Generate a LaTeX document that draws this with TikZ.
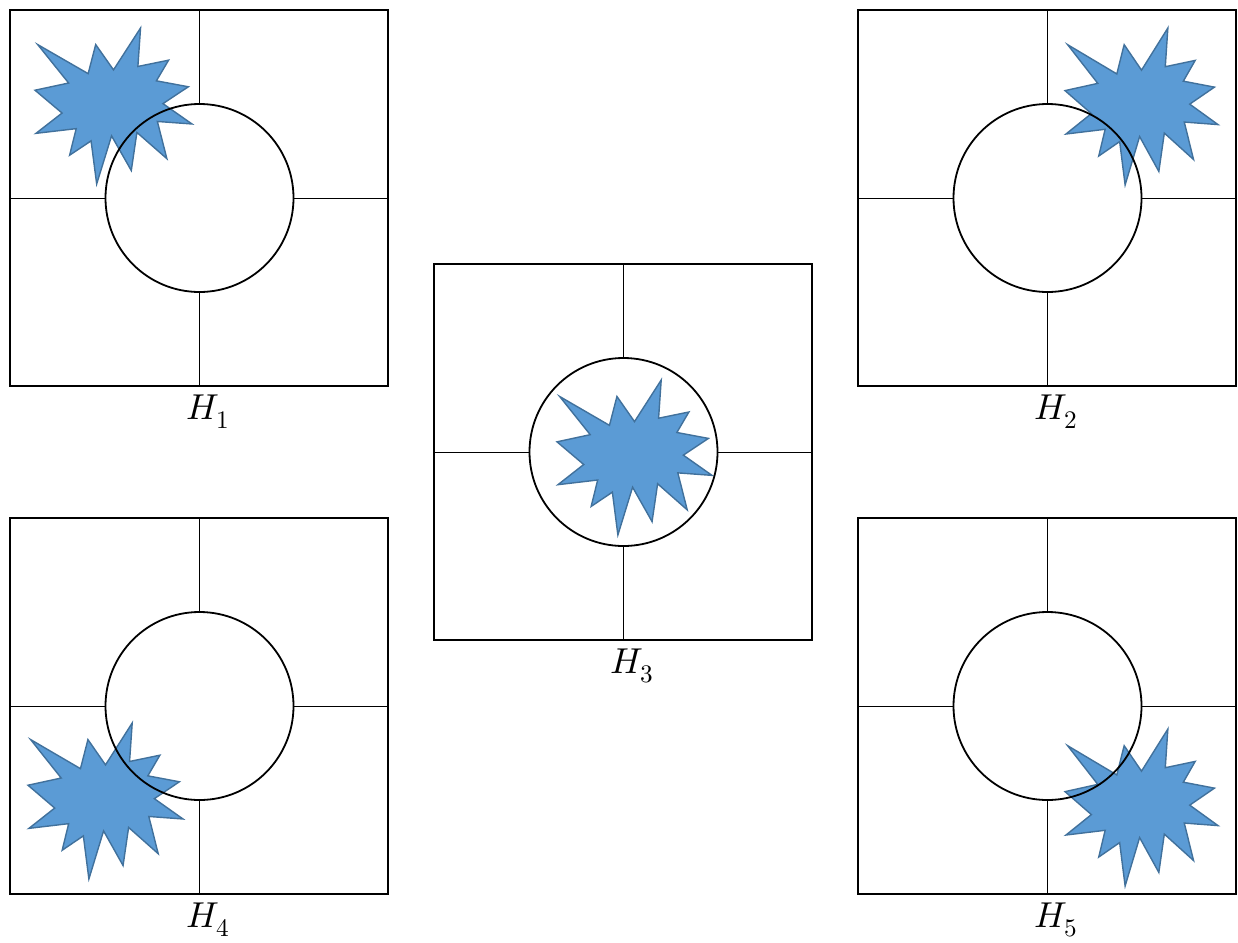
\documentclass[tikz,border=0pt]{standalone}
\usepackage{unicode-math}
\setmathfont{Latin Modern Math}
\begin{document}
\begin{tikzpicture}[x=1pt,y=-1pt,
  frame/.style={draw=black,line width=1.8pt},
  crossline/.style={draw=black,line width=0.9pt},
  ring/.style={draw=black,line width=1.8pt},
  burst/.style={fill=starblue,draw=starline,line width=1.4pt,line join=miter},
  lbl/.style={inner sep=0pt,font=\fontsize{36}{40}\selectfont}]
\definecolor{starblue}{HTML}{5B9BD5}
\definecolor{starline}{HTML}{41719C}
\useasboundingbox (0,0) rectangle (1238,942);
\newcommand\explosion[4]{%
  \begin{scope}[shift={(#1,#2)},xscale=#3/216,yscale=#4/216]
  \path[burst] (108,58) -- (145.22,0) -- (141.55,53.25) -- (183.80,44.57) -- (167.02,73.15) -- (210.97,81.37) -- (176.07,104.75) -- (216,132.90) -- (168.37,129.42) -- (181.45,180.95) -- (140.20,144.57) -- (132.47,197.37) -- (105.32,149.35) -- (84.85,216) -- (77.15,156.27) -- (47.62,176.17) -- (56.67,139.37) -- (1.35,145.87) -- (37.22,117.75) -- (0,86.15) -- (46.27,76.17) -- (3.70,22.95) -- (73.12,63.20) -- (83.52,22.95) -- cycle;
  \end{scope}}
\newcommand\panel[4]{% name, cx, cy, label
  \node[frame,minimum width=378pt,minimum height=376pt,inner sep=0pt] (#1) at (#2,#3) {};
  \coordinate (#1c) at (#2+0.5,#3);
  \path[crossline] (#1.north -| #1c) -- ([yshift=94pt]#1c);
  \path[crossline] (#1.south -| #1c) -- ([yshift=-94pt]#1c);
  \path[crossline] (#1.west |- #1c) -- ([xshift=-94pt]#1c);
  \path[crossline] (#1.east |- #1c) -- ([xshift=94pt]#1c);
  \node[lbl,anchor=north] (#1lab) at (#2+9,#3+197) {$#4$};}
% panels
\panel{p1}{199}{198}{H_1}
\panel{p2}{1047}{198}{H_2}
\panel{p3}{623}{452}{H_3}
\panel{p4}{199}{706}{H_4}
\panel{p5}{1047}{706}{H_5}
% bursts
\explosion{35}{28}{157}{156}
\explosion{1065}{28}{153}{157}
\explosion{557}{380}{155}{155}
\explosion{28}{723}{155}{156}
\explosion{1065}{729}{153}{157}
% circles
\draw[ring] (p1c) circle (94);
\draw[ring] (p2c) circle (94);
\draw[ring] (p3c) circle (94);
\draw[ring] (p4c) circle (94);
\draw[ring] (p5c) circle (94);
\end{tikzpicture}
\end{document}
